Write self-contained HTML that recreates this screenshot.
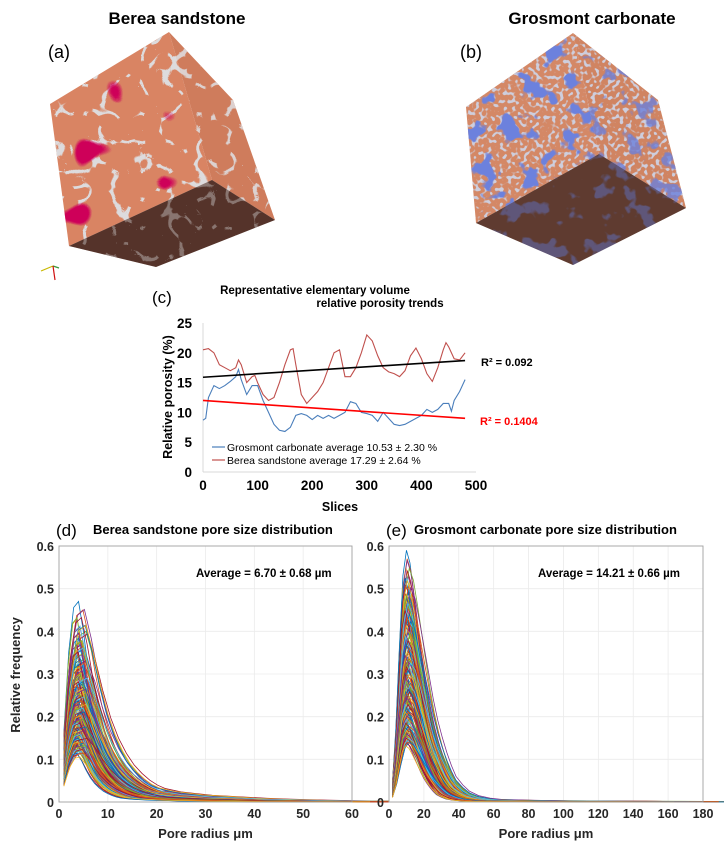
<!DOCTYPE html>
<html><head><meta charset="utf-8"><style>
body{margin:0;background:#fff;width:724px;height:851px;overflow:hidden}
svg{display:block;font-family:"Liberation Sans",Arial,sans-serif}
</style></head><body>
<svg id="fig" width="724" height="851" viewBox="0 0 724 851">
<defs>
<filter id="grayVein" filterUnits="userSpaceOnUse" x="0" y="0" width="724" height="300">
 <feTurbulence type="turbulence" baseFrequency="0.035" numOctaves="2" seed="4"/>
 <feColorMatrix type="matrix" values="0 0 0 0 0.72 0 0 0 0 0.71 0 0 0 0 0.72 -30 0 0 0 3.3"/>
</filter>
<filter id="redBlob" filterUnits="userSpaceOnUse" x="0" y="0" width="724" height="300">
 <feTurbulence type="fractalNoise" baseFrequency="0.03" numOctaves="1" seed="11"/>
 <feColorMatrix type="matrix" values="0 0 0 0 0.62 0 0 0 0 0.0 0 0 0 0 0.1 -20 0 0 0 6.6"/>
</filter>
<filter id="blueBlob" filterUnits="userSpaceOnUse" x="0" y="0" width="724" height="300">
 <feTurbulence type="fractalNoise" baseFrequency="0.05" numOctaves="3" seed="7"/>
 <feColorMatrix type="matrix" values="0 0 0 0 0.15 0 0 0 0 0.22 0 0 0 0 0.72 -14 0 0 0 6.0"/>
</filter>
<filter id="lightSpeck" filterUnits="userSpaceOnUse" x="0" y="0" width="724" height="300">
 <feTurbulence type="fractalNoise" baseFrequency="0.25" numOctaves="1" seed="2"/>
 <feColorMatrix type="matrix" values="0 0 0 0 0.62 0 0 0 0 0.62 0 0 0 0 0.72 -10 0 0 0 4.7"/>
</filter>
<clipPath id="aL"><polygon points="169,32 50,104 69,246 212,180"/></clipPath>
<clipPath id="aR"><polygon points="169,32 233,100 275,220 212,180"/></clipPath>
<clipPath id="aB"><polygon points="212,180 275,220 156,267 69,246"/></clipPath>
<clipPath id="bL"><polygon points="573,33 466,107 476,223 599,154"/></clipPath>
<clipPath id="bR"><polygon points="573,33 658,100 686,208 599,154"/></clipPath>
<clipPath id="bB"><polygon points="599,154 686,208 573,265 476,223"/></clipPath>
</defs>

<g>
<polygon points="169,32 50,104 69,246 212,180" fill="#d98463"/>
<polygon points="169,32 233,100 275,220 212,180" fill="#cf7c5c"/>
<polygon points="212,180 275,220 156,267 69,246" fill="#5e3a30"/>
<rect x="0" y="0" width="300" height="300" filter="url(#grayVein)" clip-path="url(#aL)"/>
<rect x="0" y="0" width="300" height="300" filter="url(#grayVein)" clip-path="url(#aR)" opacity="0.9"/>
<rect x="0" y="0" width="300" height="300" filter="url(#redBlob)" clip-path="url(#aL)"/>
<rect x="0" y="0" width="300" height="300" filter="url(#grayVein)" clip-path="url(#aB)" opacity="0.55"/>
<polygon points="212,180 275,220 156,267 69,246" fill="#3a2018" opacity="0.25"/>
<g stroke-width="1.2"><line x1="53" y1="266" x2="41" y2="271" stroke="#c8b800"/><line x1="53" y1="266" x2="59" y2="268" stroke="#3a9a3a"/><line x1="53" y1="266" x2="55" y2="280" stroke="#d01010"/></g>
</g>
<g>
<polygon points="573,33 466,107 476,223 599,154" fill="#d48866"/>
<polygon points="573,33 658,100 686,208 599,154" fill="#d08462"/>
<polygon points="599,154 686,208 573,265 476,223" fill="#6b4538"/>
<rect x="400" y="0" width="300" height="300" filter="url(#lightSpeck)" clip-path="url(#bL)"/>
<rect x="400" y="0" width="300" height="300" filter="url(#lightSpeck)" clip-path="url(#bR)"/>
<rect x="400" y="0" width="300" height="300" filter="url(#blueBlob)" clip-path="url(#bL)"/>
<rect x="400" y="0" width="300" height="300" filter="url(#blueBlob)" clip-path="url(#bR)" opacity="0.8"/>
<rect x="400" y="0" width="300" height="300" filter="url(#blueBlob)" clip-path="url(#bB)" opacity="0.6"/>
<polygon points="599,154 686,208 573,265 476,223" fill="#3a2018" opacity="0.25"/>
</g>
<text x="177" y="24" font-size="17" font-weight="bold" text-anchor="middle">Berea sandstone</text>
<text x="592" y="24" font-size="17" font-weight="bold" text-anchor="middle">Grosmont carbonate</text>
<text x="48" y="58" font-size="18">(a)</text>
<text x="460" y="58" font-size="18">(b)</text>

<g id="chartC">
<text x="315" y="294" font-size="11.5" font-weight="bold" text-anchor="middle">Representative elementary volume</text>
<text x="380" y="307" font-size="11.5" font-weight="bold" text-anchor="middle">relative porosity trends</text>
<text x="152" y="303" font-size="17">(c)</text>
<text transform="translate(172,397) rotate(-90)" font-size="12.5" font-weight="bold" text-anchor="middle">Relative porosity (%)</text>
<text x="340" y="511" font-size="12.5" font-weight="bold" text-anchor="middle">Slices</text>
</g>
<g id="chartD"></g>
<g id="chartE"></g>
</svg>
<script>
const NS='http://www.w3.org/2000/svg';
function mk(parent,tag,attrs,txt){const e=document.createElementNS(NS,tag);for(const k in attrs)e.setAttribute(k,attrs[k]);if(txt!=null)e.textContent=txt;parent.appendChild(e);return e;}

const cTicksX=[0,100,200,300,400,500];
const cTicksY=[0,5,10,15,20,25];
const bereaSlices=[0,10,20,30,40,50,60,65,70,80,90,95,100,110,120,130,140,150,160,165,170,180,190,200,210,220,230,240,250,260,270,280,290,300,310,320,330,340,350,360,370,380,390,400,410,420,430,440,445,450,460,470,480];
const bereaPorosity=[20.5,20.7,20,18,17.5,17,17.5,18.8,18,15,16,16.2,15,13,12,12.5,15,18,20.5,20.7,18,13,11.5,12.5,13.5,15,17.5,20,20.5,16,16,17.5,20,23,22,19.5,17.5,16.8,16.5,16,17,19.5,20.8,19,16.5,15.2,17.5,20.5,21.7,21,19,18.8,20];
const grosSlices=[0,5,10,20,30,40,50,60,65,70,80,90,100,110,120,130,140,150,160,170,180,190,200,210,220,230,240,250,260,270,280,290,300,310,320,330,340,350,360,370,380,390,400,410,420,430,440,450,455,460,470,480];
const grosPorosity=[8.7,9,12.5,14.5,14,14.5,15.2,16,17.2,15.5,13,14.5,14.5,12,10,8,7,6.8,7.5,9.5,9.8,9.5,8.8,9.5,9,9.5,9,9.5,10,11.8,11.5,10,9.8,9.5,8.5,10,9,8,7.8,8,8.5,9,9.5,10.5,10,10.5,11.5,11.5,10.2,12,13.5,15.5];
const bereaTrend=[15.9,18.7];
const grosTrend=[12,9];
const trendX=[0,480];
(function(){
 const g=document.getElementById('chartC');
 const X=v=>203+v*(476-203)/500, Y=v=>472-v*(472-323)/25;
 mk(g,'line',{x1:203,y1:323,x2:203,y2:472,stroke:'#d9d9d9'});
 mk(g,'line',{x1:203,y1:472,x2:476,y2:472,stroke:'#d9d9d9'});
 cTicksY.forEach(t=>{const e=mk(g,'text',{x:192,y:Y(t)+5,'font-size':13.5,'font-weight':'bold','text-anchor':'end'},t);
 
 });
 cTicksX.forEach(t=>{const e=mk(g,'text',{x:X(t),y:490,'font-size':13.5,'font-weight':'bold','text-anchor':'middle'},t);
 
 });
 let p=mk(g,'polyline',{points:bereaSlices.map((s,i)=>X(s)+','+Y(bereaPorosity[i])).join(' '),fill:'none',stroke:'#c0504d','stroke-width':1.1});
 
 
 p=mk(g,'polyline',{points:grosSlices.map((s,i)=>X(s)+','+Y(grosPorosity[i])).join(' '),fill:'none',stroke:'#4a7ebb','stroke-width':1.1});
 
 
 p=mk(g,'line',{x1:X(trendX[0]),y1:Y(bereaTrend[0]),x2:X(trendX[1]),y2:Y(bereaTrend[1]),stroke:'#000','stroke-width':1.6});
 
 
 p=mk(g,'line',{x1:X(trendX[0]),y1:Y(grosTrend[0]),x2:X(trendX[1]),y2:Y(grosTrend[1]),stroke:'#ff0000','stroke-width':1.6});
 
 
 p=mk(g,'text',{x:481,y:366,'font-size':11,'font-weight':'bold'},'R² = 0.092');
 
 
 p=mk(g,'text',{x:480,y:425,'font-size':11,'font-weight':'bold',fill:'#ff0000'},'R² = 0.1404');
 
 
 mk(g,'line',{x1:212,y1:447,x2:225,y2:447,stroke:'#4a7ebb','stroke-width':1.2});
 p=mk(g,'text',{x:227,y:451,'font-size':10.5},'Grosmont carbonate  average 10.53 ± 2.30 %');
 
 
 mk(g,'line',{x1:212,y1:460,x2:225,y2:460,stroke:'#c0504d','stroke-width':1.2});
 p=mk(g,'text',{x:227,y:464,'font-size':10.5},'Berea sandstone average 17.29 ± 2.64 %');
 
 
})();

const colors=['#0072BD','#D95319','#EDB120','#7E2F8E','#77AC30','#4DBEEE','#A2142F'];
const dTicksX=[0,10,20,30,40,50,60];
const eTicksX=[0,20,40,60,80,100,120,140,160,180];
const freqTicks=[0,0.1,0.2,0.3,0.4,0.5,0.6];
const bereaRadius=[1,2,3,4,5,6,7,8,9,10,11,12,13,14,16,18,20,22,24,27,30,34,38,44,50,58];
const bereaShape=[0.35,0.75,0.97,1,0.85,0.66,0.5,0.38,0.29,0.22,0.17,0.13,0.1,0.08,0.06,0.05,0.04,0.035,0.03,0.022,0.017,0.012,0.008,0.005,0.004,0.002];
const bereaPeaks=[0.47,0.45,0.43,0.41,0.4,0.38,0.37,0.36,0.35,0.34,0.33,0.32,0.32,0.31,0.3,0.3,0.29,0.28,0.28,0.27,0.27,0.26,0.26,0.25,0.25,0.24,0.24,0.23,0.23,0.22,0.22,0.21,0.21,0.2,0.2,0.19,0.19,0.18,0.18,0.17,0.17,0.16,0.16,0.15,0.15,0.14,0.14,0.13,0.13,0.12];
const bereaStretch=[1.0,1.3,0.9,1.1,1.5,1.0,1.2,1.4,0.9,1.1,1.6,1.0,1.3,0.95,1.2,1.45,1.05,1.25,0.9,1.35,1.1,1.5,1.0,1.2,1.3,0.95,1.15,1.4,1.05,1.25,1.1,1.6,1.0,1.3,0.9,1.2,1.45,1.05,1.35,1.15,1.0,1.25,1.5,0.95,1.1,1.3,1.2,1.4,1.0,1.15];
const grosRadius=[2,4,6,8,10,12,14,16,18,20,22,24,26,28,30,33,36,40,45,50,60,70,80,90,100,120,140,160,172];
const grosShape=[0.08,0.3,0.62,0.9,1,0.95,0.84,0.72,0.6,0.48,0.38,0.3,0.23,0.17,0.12,0.08,0.05,0.03,0.018,0.012,0.009,0.007,0.006,0.005,0.004,0.003,0.003,0.002,0.002];
const grosPeaks=[0.59,0.57,0.55,0.53,0.51,0.5,0.49,0.47,0.46,0.45,0.44,0.43,0.42,0.41,0.4,0.39,0.38,0.37,0.36,0.35,0.34,0.34,0.33,0.32,0.31,0.3,0.3,0.29,0.28,0.28,0.27,0.26,0.26,0.25,0.24,0.24,0.23,0.22,0.22,0.21,0.2,0.2,0.19,0.18,0.18,0.17,0.17,0.16,0.16,0.15];
const grosStretch=[1.0,1.05,0.95,1.1,1.0,1.15,0.9,1.05,1.2,1.0,0.95,1.1,1.25,1.0,1.05,0.9,1.15,1.0,1.2,1.1,0.95,1.05,1.3,1.0,1.1,0.9,1.2,1.05,1.0,1.15,1.25,0.95,1.1,1.0,1.2,1.05,0.9,1.15,1.3,1.0,1.1,1.05,1.2,0.95,1.0,1.25,1.1,1.15,1.0,1.2];

function psd(gid,x0,x1,xmax,ticksX,radius,shape,peaks,stretch,label,title,avg,avgX,key){
 const g=document.getElementById(gid);
 const yb=802,yt=546;
 const X=v=>x0+v*(x1-x0)/xmax, Y=v=>yb-v*(yb-yt)/0.6;
 mk(g,'rect',{x:x0,y:yt,width:x1-x0,height:yb-yt,fill:'#fff',stroke:'#bdbdbd','stroke-width':0.8});
 ticksX.forEach(t=>{mk(g,'line',{x1:X(t),y1:yt,x2:X(t),y2:yb,stroke:'#ebebeb','stroke-width':0.8});
  const e=mk(g,'text',{x:X(t),y:yb+16,'font-size':12.5,'font-weight':'bold','text-anchor':'middle',fill:'#262626'},t);
  
  });
 freqTicks.forEach(t=>{mk(g,'line',{x1:x0,y1:Y(t),x2:x1,y2:Y(t),stroke:'#ebebeb','stroke-width':0.8});
  const e=mk(g,'text',{x:x0-5,y:Y(t)+5,'font-size':12.5,'font-weight':'bold','text-anchor':'end',fill:'#262626'},t);
  
  });
 for(let rep=0;rep<4;rep++){
 peaks.forEach((pk,i)=>{
  const s=stretch[(i+rep*7)%stretch.length];
  const pts=radius.map((r,j)=>{
   const rr=radius[0]+(r-radius[0])*s;
   return X(rr)+','+Y(pk*(1-rep*0.04)*shape[j]);
  }).join(' ');
  const e=mk(g,'polyline',{points:pts,fill:'none',stroke:colors[(i+rep*3)%colors.length],'stroke-width':0.8});
  
  
 });}
 mk(g,'rect',{x:x0,y:yt,width:x1-x0,height:yb-yt,fill:'none',stroke:'#9a9a9a','stroke-width':0.8});
 let e=mk(g,'text',{x:x0-3,y:536,'font-size':17},label);
 
 
 e=mk(g,'text',{x:x0+(label=='(d)'?34:25),y:534,'font-size':13,'font-weight':'bold'},title);
 
 
 e=mk(g,'text',{x:avgX,y:577,'font-size':11.5,'font-weight':'bold'},avg);
 
 
 e=mk(g,'text',{x:(x0+x1)/2,y:838,'font-size':13,'font-weight':'bold','text-anchor':'middle',fill:'#262626'},'Pore radius μm');
 
 
}
psd('chartD',59,352,60,dTicksX,bereaRadius,bereaShape,bereaPeaks,bereaStretch,'(d)','Berea sandstone pore size distribution','Average = 6.70 ± 0.68 µm',196,'berea');
psd('chartE',389,703,180,eTicksX,grosRadius,grosShape,grosPeaks,grosStretch,'(e)','Grosmont carbonate pore size distribution','Average = 14.21 ± 0.66 µm',538,'grosmont');
(function(){const g=document.getElementById('chartD');
 const e=mk(g,'text',{transform:'translate(20,675) rotate(-90)','font-size':13,'font-weight':'bold','text-anchor':'middle',fill:'#262626'},'Relative frequency');
 
 })();
</script>
</body></html>
